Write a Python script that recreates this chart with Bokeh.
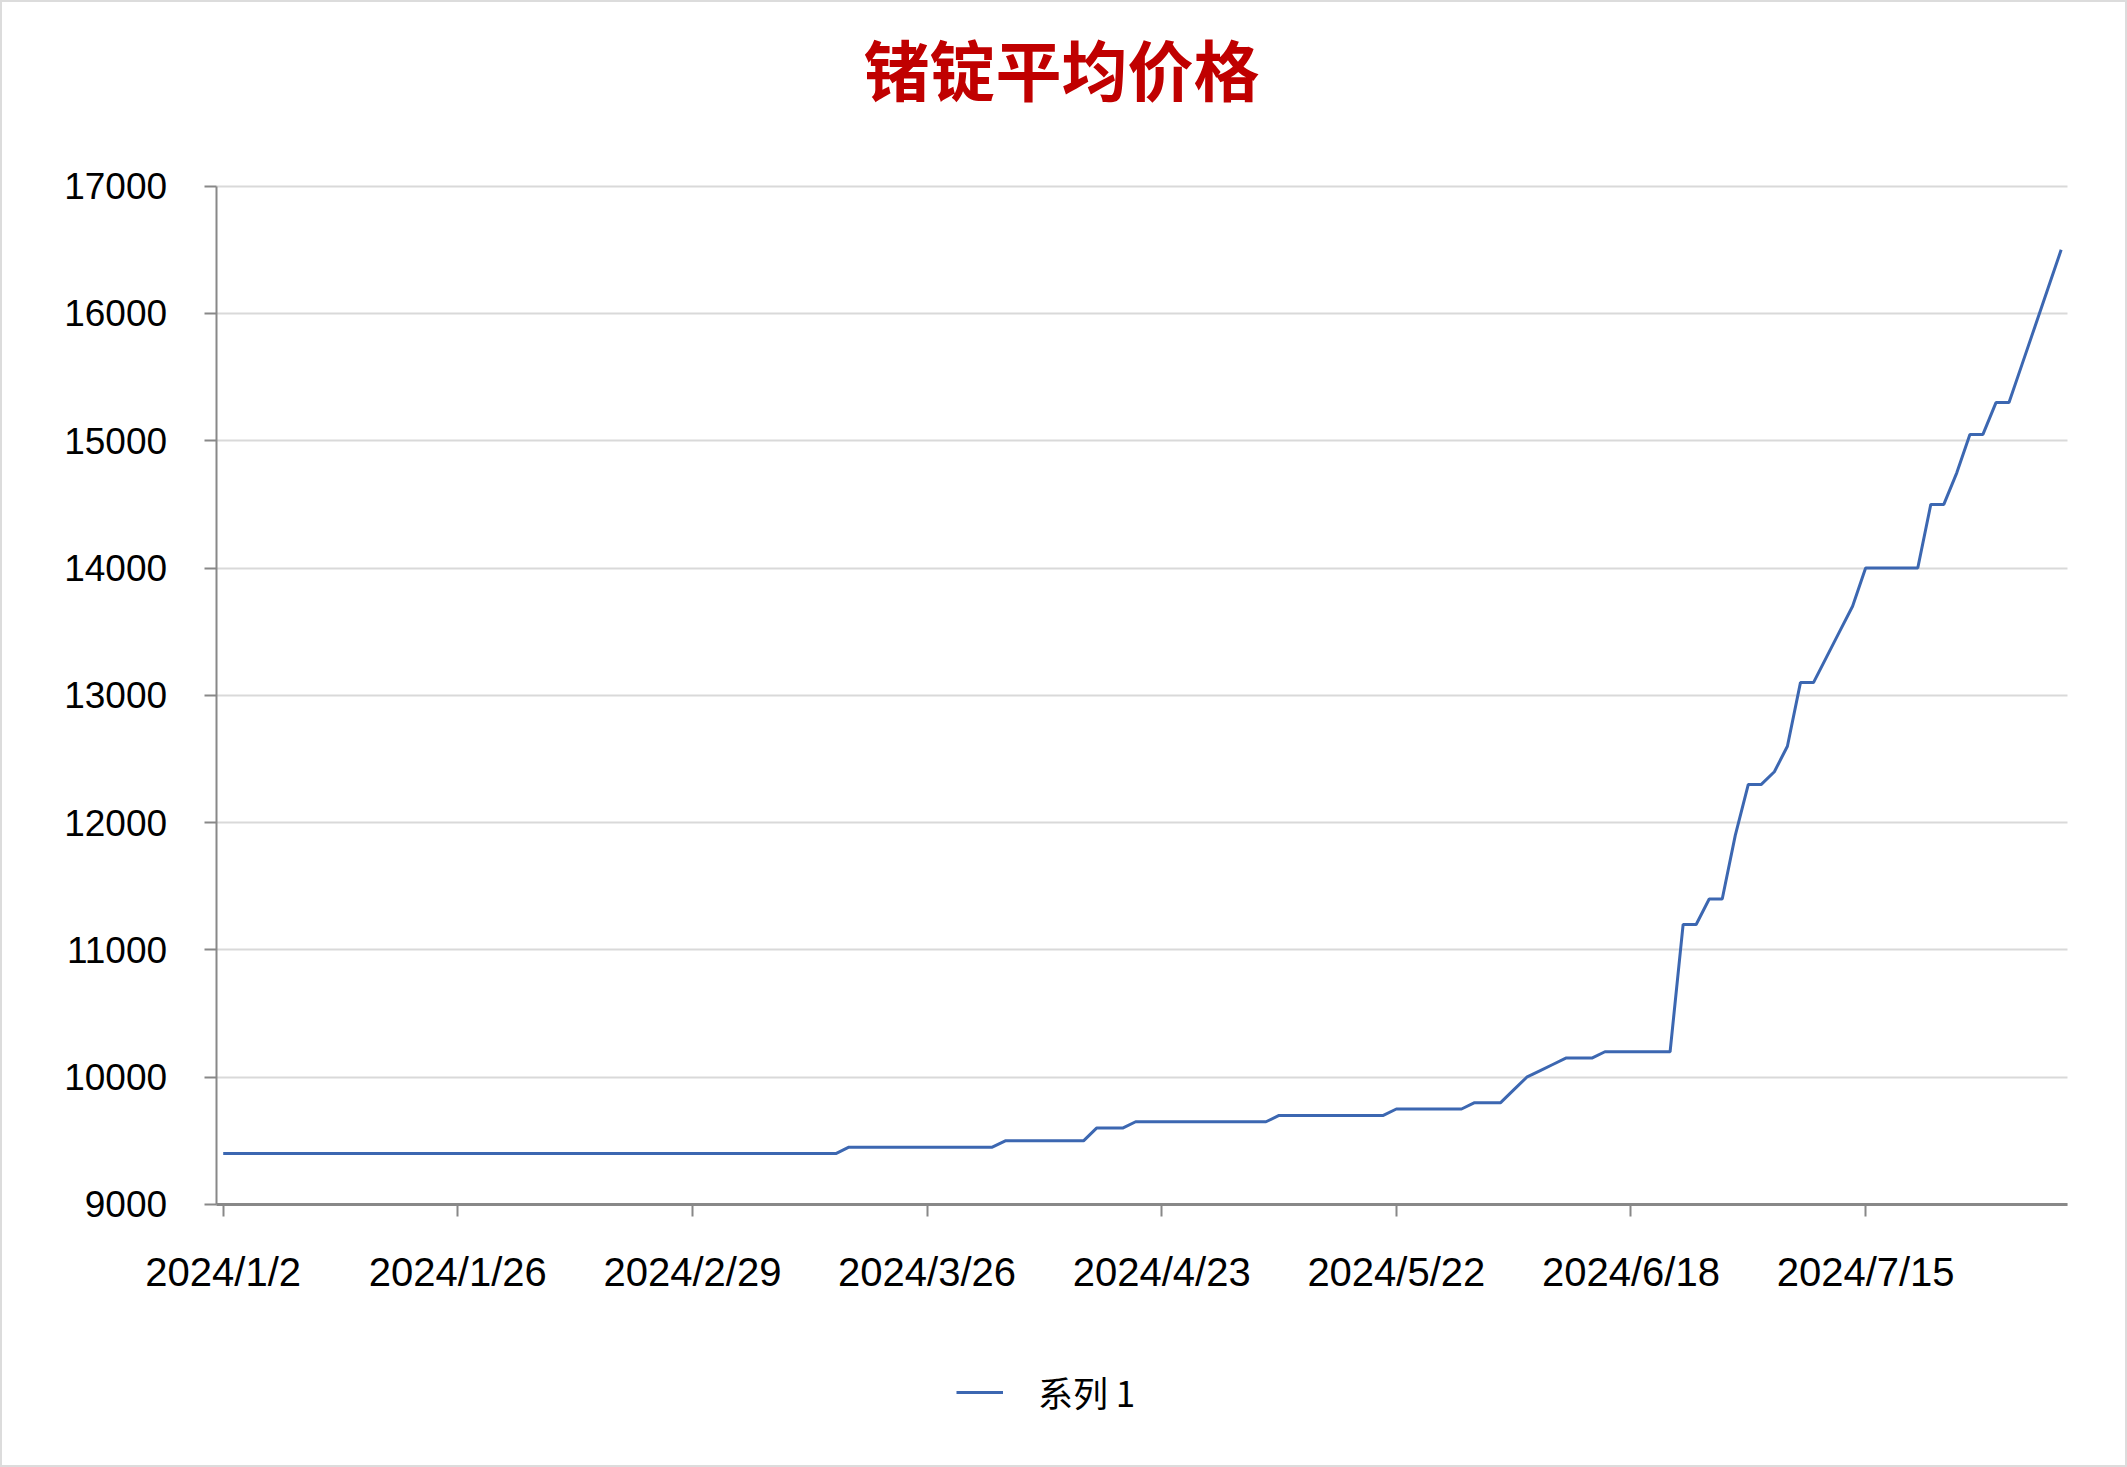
from bokeh.plotting import figure
from bokeh.models import (Range1d, FixedTicker, Label, Legend, LegendItem)
from bokeh.embed import file_html
from bokeh.resources import INLINE

# ---- data ----
title_text = "锗锭平均价格"
series_name = "系列 1"
tick_labels = ["2024/1/2", "2024/1/26", "2024/2/29", "2024/3/26",
               "2024/4/23", "2024/5/22", "2024/6/18", "2024/7/15"]
label_step = 18  # one label every 18 trading days
y_ticks = [9000, 10000, 11000, 12000, 13000, 14000, 15000, 16000, 17000]

prices = [
    9400, 9400, 9400, 9400, 9400, 9400, 9400, 9400, 9400, 9400,
    9400, 9400, 9400, 9400, 9400, 9400, 9400, 9400, 9400, 9400,
    9400, 9400, 9400, 9400, 9400, 9400, 9400, 9400, 9400, 9400,
    9400, 9400, 9400, 9400, 9400, 9400, 9400, 9400, 9400, 9400,
    9400, 9400, 9400, 9400, 9400, 9400, 9400, 9400,
    9450, 9450, 9450, 9450, 9450, 9450, 9450, 9450, 9450, 9450, 9450, 9450,
    9500, 9500, 9500, 9500, 9500, 9500, 9500,
    9600, 9600, 9600,
    9650, 9650, 9650, 9650, 9650, 9650, 9650, 9650, 9650, 9650, 9650,
    9700, 9700, 9700, 9700, 9700, 9700, 9700, 9700, 9700,
    9750, 9750, 9750, 9750, 9750, 9750,
    9800, 9800, 9800,
    9900, 10000, 10050, 10100,
    10150, 10150, 10150,
    10200, 10200, 10200, 10200, 10200, 10200,
    11200, 11200, 11400, 11400, 11900, 12300, 12300, 12400, 12600,
    13100, 13100, 13300, 13500, 13700,
    14000, 14000, 14000, 14000, 14000,
    14500, 14500, 14750, 15050, 15050, 15300, 15300,
    15600, 15900, 16200, 16500,
]
idx = list(range(len(prices)))

LINE_COLOR = "#3C67B1"
AXIS_COLOR = "#888888"
GRID_COLOR = "#D9D9D9"
FONT = "Liberation Sans"
CJK = "Noto Sans CJK SC"

W, H = 2127, 1467
X0, X1 = -0.545, 141.45          # plotted category extent
Y0, Y1 = y_ticks[0], y_ticks[-1]

# the frame covers the whole canvas; axes are pinned at the data extent
p = figure(width=W, height=H, output_backend="svg", toolbar_location=None,
           x_range=Range1d(-17.085, 146.09), y_range=Range1d(6933.8, 18458.7),
           min_border=0)
p.title = None
p.outline_line_color = "#DCDCDC"
p.outline_line_width = 3
p.background_fill_color = "white"
p.border_fill_color = "white"

r = p.line(idx, prices, line_color=LINE_COLOR, line_width=3)

# title
p.add_layout(Label(x=1061, y=H - 66, x_units="screen", y_units="screen",
                   text=title_text, text_font=CJK, text_font_size="66px",
                   text_font_style="bold", text_color="#C00000",
                   text_align="center", text_baseline="middle"))

# axes
p.xaxis.ticker = FixedTicker(ticks=[i * label_step for i in range(len(tick_labels))])
p.xaxis.major_label_overrides = {i * label_step: lab for i, lab in enumerate(tick_labels)}
p.yaxis.ticker = FixedTicker(ticks=y_ticks)
p.xaxis.fixed_location = Y0
p.yaxis.fixed_location = X0
p.xaxis.bounds = (X0, X1)
p.yaxis.bounds = (Y0, Y1)

for ax in (p.xaxis, p.yaxis):
    ax.axis_line_color = AXIS_COLOR
    ax.major_tick_line_color = AXIS_COLOR
    ax.major_tick_line_width = 2
    ax.major_tick_in = 0
    ax.major_tick_out = 12
    ax.minor_tick_line_color = None
    ax.major_label_text_font = FONT
    ax.major_label_text_color = "#000000"

p.xaxis.axis_line_width = 3
p.yaxis.axis_line_width = 2
p.xaxis.major_label_text_font_size = "40px"
p.yaxis.major_label_text_font_size = "37px"
p.xaxis.major_label_standoff = 34
p.yaxis.major_label_standoff = 37

p.xgrid.grid_line_color = None
p.ygrid.grid_line_color = GRID_COLOR
p.ygrid.grid_line_width = 2
p.ygrid.cross_bounds = (X0, X1)

legend = Legend(items=[LegendItem(label=series_name, renderers=[r])],
                location=(956, H - 1417), orientation="horizontal",
                glyph_width=47, glyph_height=40, label_height=40,
                label_standoff=35, padding=0, margin=0, spacing=0,
                label_text_font=CJK, label_text_font_size="35px",
                label_text_color="#000000",
                border_line_color=None, background_fill_alpha=0)
p.add_layout(legend, "center")

open("out.html", "w").write(file_html(p, INLINE))
